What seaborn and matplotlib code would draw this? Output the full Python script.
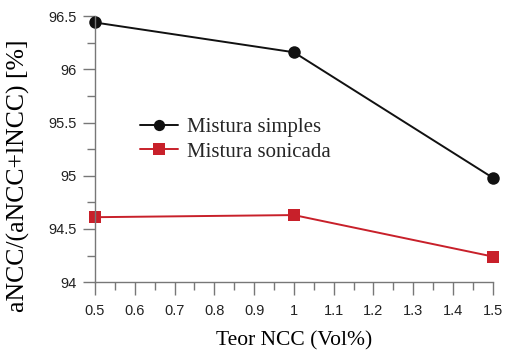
import matplotlib
matplotlib.use("Agg")
import matplotlib.pyplot as plt
import seaborn as sns
import pandas as pd
from matplotlib.ticker import MultipleLocator, FuncFormatter

teor = [0.5, 1.0, 1.5]
simples = [96.44, 96.16, 94.98]
sonicada = [94.61, 94.63, 94.24]
series_names = ["Mistura simples", "Mistura sonicada"]

df = pd.DataFrame({
    "Teor": teor * 2,
    "val": simples + sonicada,
    "serie": [series_names[0]] * 3 + [series_names[1]] * 3,
})

sns.set_theme(style="ticks")
fig = plt.figure(figsize=(5.05, 3.5), dpi=100)
ax = fig.add_axes([0.188, 0.194, 0.788, 0.76])

sns.lineplot(data=df, x="Teor", y="val", hue="serie", style="serie",
             markers={series_names[0]: "o", series_names[1]: "s"}, dashes=False,
             palette={series_names[0]: "#111111", series_names[1]: "#c8202a"},
             markersize=9, linewidth=1.4, markeredgewidth=0, ax=ax, clip_on=False)

ax.set_xlim(0.5, 1.5)
ax.set_ylim(94, 96.5)
ax.xaxis.set_major_locator(MultipleLocator(0.1))
ax.xaxis.set_minor_locator(MultipleLocator(0.05))
ax.yaxis.set_major_locator(MultipleLocator(0.5))
ax.yaxis.set_minor_locator(MultipleLocator(0.25))
fmt = FuncFormatter(lambda v, p: f"{v:g}")
ax.xaxis.set_major_formatter(fmt)
ax.yaxis.set_major_formatter(fmt)

for s in ["top", "right"]:
    ax.spines[s].set_visible(False)
for s in ["left", "bottom"]:
    ax.spines[s].set_color("#777777")
    ax.spines[s].set_linewidth(1.0)
ax.tick_params(which="major", length=9, width=1, color="#777777", labelsize=10.5,
               labelcolor="#222222")
ax.tick_params(axis="x", which="major", pad=7)
ax.tick_params(axis="y", which="major", pad=4)
ax.tick_params(which="minor", length=5.5, width=1, color="#777777")
for lab in ax.get_xticklabels() + ax.get_yticklabels():
    lab.set_family("Liberation Sans")

ax.set_xlabel("Teor NCC (Vol%)", family="Liberation Serif", fontsize=15.5, color="black", labelpad=9)
ax.set_ylabel("aNCC/(aNCC+lNCC) [%]", family="Liberation Serif", fontsize=18.5, color="black")
ax.yaxis.set_label_coords(-0.163, 0.40)

leg = ax.legend(loc="center left", bbox_to_anchor=(0.113, 0.536), frameon=False,
                prop={"family": "Liberation Serif", "size": 15},
                handlelength=1.83, handletextpad=0.43, labelspacing=0.25,
                borderaxespad=0, borderpad=0, markerscale=0.9)

fig.savefig("out.png", dpi=100)
